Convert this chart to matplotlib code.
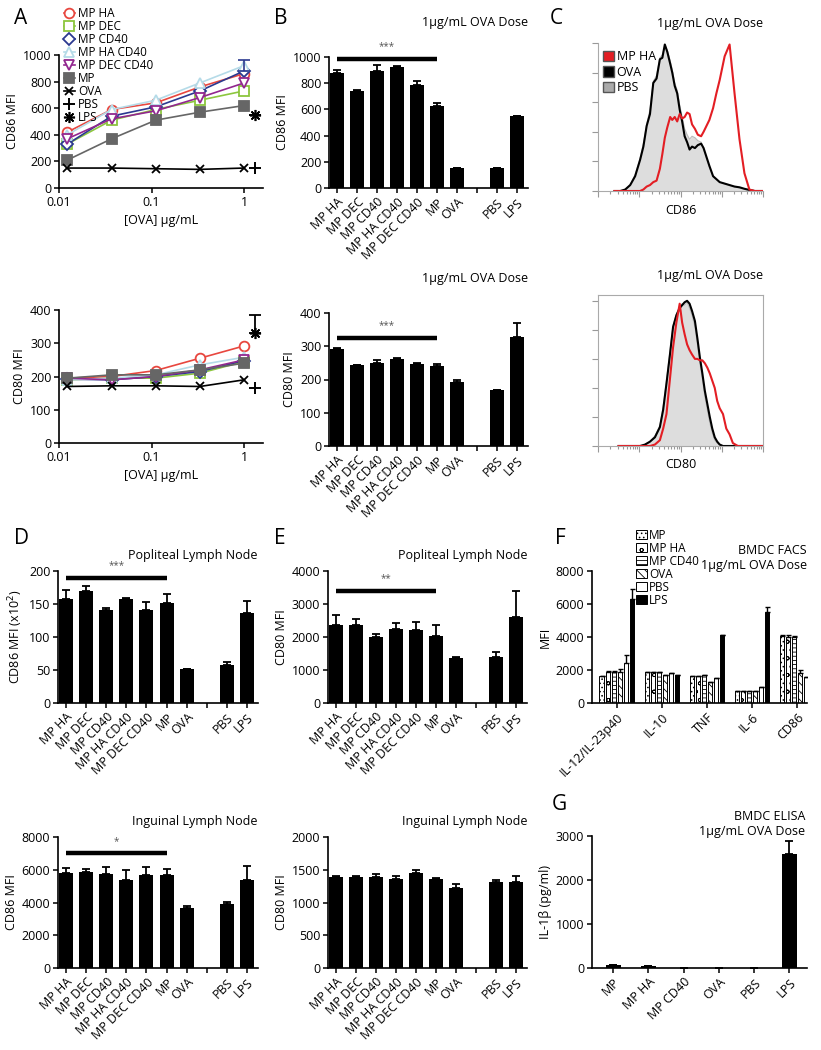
import numpy as np
import matplotlib
matplotlib.use("Agg")
import matplotlib.pyplot as plt
from matplotlib.patches import Patch

plt.rcParams['font.family'] = ['Open Sans', 'DejaVu Sans']
plt.rcParams['hatch.linewidth'] = 0.6

W, H = 821, 1050
FS = 9

# ---------- panel A: dose response ----------
doses = [0.0123, 0.037, 0.111, 0.333, 1.0]
ctrl_dose = 1.3
groups_a = ["MP HA", "MP DEC", "MP CD40", "MP HA CD40", "MP DEC CD40", "MP", "OVA"]
a_cd86 = {
    "MP HA": [420, 590, 640, 760, 860],
    "MP DEC": [330, 510, 590, 660, 730],
    "MP CD40": [330, 540, 610, 730, 880],
    "MP HA CD40": [400, 590, 660, 790, 920],
    "MP DEC CD40": [370, 520, 580, 680, 790],
    "MP": [210, 370, 510, 570, 620],
    "OVA": [150, 150, 145, 140, 150],
}
a_cd86_pbs, a_cd86_lps = 150, 550
a_cd80 = {
    "MP HA": [195, 200, 218, 255, 292],
    "MP DEC": [190, 195, 195, 210, 245],
    "MP CD40": [192, 190, 200, 215, 248],
    "MP HA CD40": [190, 195, 205, 235, 258],
    "MP DEC CD40": [195, 190, 200, 220, 250],
    "MP": [195, 205, 205, 220, 240],
    "OVA": [170, 172, 172, 170, 190],
}
a_cd80_pbs, a_cd80_lps, a_cd80_lps_err = 165, 330, 55

# ---------- bar panels B, D, E ----------
bar_labels = ["MP HA", "MP DEC", "MP CD40", "MP HA CD40", "MP DEC CD40", "MP", "OVA", "", "PBS", "LPS"]
b_cd86 = [875, 740, 895, 925, 785, 625, 150, np.nan, 155, 550]
b_cd86_err = [25, 10, 45, 10, 35, 25, 0, np.nan, 0, 0]
b_cd80 = [292, 245, 250, 262, 247, 242, 192, np.nan, 167, 328]
b_cd80_err = [3, 0, 8, 2, 2, 4, 8, np.nan, 0, 42]
d_pop = [158, 170, 141, 157, 141, 151, 51, np.nan, 57, 137]
d_pop_err = [13, 7, 3, 2, 12, 14, 1, np.nan, 5, 18]
d_ing = [5800, 5880, 5750, 5400, 5650, 5700, 3650, np.nan, 3900, 5350]
d_ing_err = [300, 150, 400, 600, 500, 350, 150, np.nan, 150, 850]
e_pop = [2350, 2350, 2000, 2250, 2200, 2020, 1350, np.nan, 1400, 2600]
e_pop_err = [330, 200, 100, 180, 250, 350, 30, np.nan, 150, 800]
e_ing = [1390, 1395, 1385, 1360, 1450, 1360, 1220, np.nan, 1320, 1320]
e_ing_err = [15, 10, 50, 50, 40, 15, 60, np.nan, 20, 80]

# ---------- panel C: histograms ----------
c86_x = [0.4, 0.54, 0.66, 0.78, 0.9, 1.02, 1.1, 1.18, 1.26, 1.34, 1.42, 1.5, 1.56, 1.62,
         1.68, 1.75, 1.8, 1.86, 1.92, 1.98, 2.04, 2.1, 2.16, 2.22, 2.28, 2.35, 2.42, 2.5,
         2.56, 2.63, 2.7, 2.79, 2.87, 2.95, 3.07, 3.19, 3.31, 3.43, 3.55, 3.67, 3.8, 4.0]
c86_ova = [0, 0, 0.01, 0.04, 0.1, 0.21, 0.3, 0.44, 0.52, 0.73, 0.76, 0.89, 0.9, 0.99,
           0.94, 0.86, 0.8, 0.71, 0.66, 0.55, 0.47, 0.37, 0.33, 0.28, 0.30, 0.29, 0.31, 0.32,
           0.29, 0.23, 0.17, 0.10, 0.08, 0.06, 0.05, 0.04, 0.03, 0.025, 0.015, 0.007, 0, 0]
c86_pbs = [0, 0, 0.01, 0.04, 0.11, 0.22, 0.32, 0.45, 0.55, 0.74, 0.78, 0.9, 0.92, 0.98,
           0.95, 0.88, 0.82, 0.73, 0.68, 0.58, 0.5, 0.42, 0.38, 0.35, 0.37, 0.36, 0.34, 0.33,
           0.28, 0.22, 0.16, 0.10, 0.08, 0.06, 0.05, 0.04, 0.03, 0.02, 0.012, 0.005, 0, 0]
c86_mpha = [0, 0, 0, 0, 0, 0, 0.01, 0.03, 0.04, 0.06, 0.07, 0.15, 0.25, 0.36,
            0.43, 0.5, 0.48, 0.5, 0.47, 0.52, 0.49, 0.5, 0.53, 0.52, 0.45, 0.42, 0.38, 0.37,
            0.40, 0.44, 0.48, 0.56, 0.66, 0.75, 0.91, 0.99, 0.66, 0.35, 0.12, 0.01, 0, 0]
c80_x = [0.5, 0.8, 1.02, 1.14, 1.26, 1.38, 1.5, 1.58, 1.66, 1.74, 1.82, 1.9, 1.98, 2.04,
         2.1, 2.16, 2.22, 2.28, 2.35, 2.41, 2.47, 2.53, 2.59, 2.65, 2.71, 2.77, 2.83, 2.89,
         2.95, 3.03, 3.11, 3.19, 3.27, 3.39, 3.6, 4.0]
c80_ova = [0, 0, 0, 0.01, 0.03, 0.06, 0.13, 0.25, 0.43, 0.62, 0.82, 0.9, 0.95, 0.97,
           0.99, 1.0, 0.98, 0.93, 0.86, 0.74, 0.61, 0.5, 0.38, 0.29, 0.2, 0.12, 0.06, 0.03,
           0.01, 0, 0, 0, 0, 0, 0, 0]
c80_pbs = [0, 0, 0, 0.01, 0.03, 0.07, 0.14, 0.27, 0.45, 0.64, 0.83, 0.91, 0.96, 0.98,
           0.97, 0.99, 0.95, 0.9, 0.82, 0.7, 0.57, 0.46, 0.34, 0.25, 0.16, 0.09, 0.04, 0.02,
           0.01, 0, 0, 0, 0, 0, 0, 0]
c80_mpha = [0, 0, 0, 0, 0, 0.01, 0.04, 0.12, 0.22, 0.45, 0.68, 0.85, 0.98, 0.85,
            0.77, 0.7, 0.66, 0.63, 0.6, 0.6, 0.59, 0.59, 0.57, 0.54, 0.5, 0.45, 0.4, 0.31,
            0.26, 0.22, 0.12, 0.08, 0.02, 0, 0, 0]

# ---------- panel F: BMDC FACS ----------
f_groups = ["IL-12/IL-23p40", "IL-10", "TNF", "IL-6", "CD86"]
f_series = ["MP", "MP HA", "MP CD40", "OVA", "PBS", "LPS"]
f_vals = {
    "MP": [1650, 1850, 1650, 700, 4050],
    "MP HA": [1900, 1900, 1650, 750, 4000],
    "MP CD40": [1900, 1900, 1700, 750, 4000],
    "OVA": [1850, 1700, 1300, 750, 1800],
    "PBS": [2400, 1800, 1500, 950, 1600],
    "LPS": [6300, 1700, 4100, 5500, 6400],
}
f_errs = {
    "MP": [0, 0, 0, 0, 50],
    "MP HA": [50, 0, 0, 0, 150],
    "MP CD40": [50, 0, 0, 0, 50],
    "OVA": [200, 0, 0, 0, 200],
    "PBS": [500, 0, 0, 0, 0],
    "LPS": [600, 0, 50, 300, 0],
}

# ---------- panel G: ELISA ----------
g_labels = ["MP", "MP HA", "MP CD40", "OVA", "PBS", "LPS"]
g_vals = [60, 40, 5, 0, 0, 2600]
g_errs = [0, 0, 0, 0, 0, 280]

fig = plt.figure(figsize=(W / 100, H / 100), dpi=100)


def ax_at(left, right, top, bottom):
    return fig.add_axes([left / W, 1 - bottom / H, (right - left) / W, (bottom - top) / H])


def style(ax):
    for s in ["top", "right"]:
        ax.spines[s].set_visible(False)
    for s in ["left", "bottom"]:
        ax.spines[s].set_linewidth(1.2)
    ax.tick_params(width=1.1, length=3.5, labelsize=FS, pad=2)


def letter(x, y, s):
    fig.text(x / W, 1 - y / H, s, fontsize=15, ha="left", va="center")


def bar_panel(ax, vals, errs, ylim, yticks, ylabel, title, sig=None, title_y=1.12):
    x = np.arange(len(bar_labels))
    ax.bar(x, vals, width=0.7, color="black")
    lo = np.zeros(len(vals))
    ax.errorbar(x, vals, yerr=[lo, errs], fmt="none", ecolor="black",
                elinewidth=1.3, capsize=3, capthick=1.3)
    ax.set_xlim(-0.4, 9.55)
    ax.set_ylim(*ylim)
    ax.set_yticks(yticks)
    ax.set_xticks(x)
    ax.set_xticklabels(bar_labels, rotation=45, ha="right", rotation_mode="anchor")
    ax.set_ylabel(ylabel, fontsize=FS, labelpad=3)
    style(ax)
    ax.text(1.0, title_y, title, transform=ax.transAxes, ha="right", va="center", fontsize=FS)
    if sig is not None:
        level, stars = sig
        ax.plot([0, 5], [level, level], color="black", lw=3.2, solid_capstyle="butt",
                clip_on=False)
        ax.text(2.5, level + (ylim[1] - ylim[0]) * 0.05, stars, ha="center", va="bottom",
                fontsize=7, color="#555555")


# ---------- draw A ----------
a_styles = {
    "MP HA": dict(color="#e8473f", marker="o", mfc="white", ms=7),
    "MP DEC": dict(color="#8cc63e", marker="s", mfc="white", ms=6.5),
    "MP CD40": dict(color="#2b3990", marker="D", mfc="white", ms=6),
    "MP HA CD40": dict(color="#b5dbe8", marker="^", mfc="white", ms=7),
    "MP DEC CD40": dict(color="#92278f", marker="v", mfc="white", ms=7),
    "MP": dict(color="#666666", marker="s", mfc="#666666", ms=7),
    "OVA": dict(color="black", marker="x", mfc="black", ms=6),
}


def dose_panel(ax, data, pbs, lps, lps_err, ylim, yticks, ylabel):
    for g in groups_a:
        st = a_styles[g]
        ax.plot(doses, data[g], color=st["color"], lw=1.2, marker=st["marker"],
                mfc=st["mfc"], mec=st["color"], ms=st["ms"], mew=1.3, label=g, clip_on=False)
    ax.plot([ctrl_dose], [pbs], marker="+", color="black", ms=9, mew=1.4, ls="none",
            label="PBS", clip_on=False)
    ax.errorbar([ctrl_dose], [lps], yerr=[[0], [lps_err]], fmt="none", ecolor="black",
                elinewidth=1.3, capsize=4, capthick=1.3, clip_on=False)
    ax.plot([ctrl_dose], [lps], marker=(8, 2, 0), color="black", ms=8, mew=1.2, ls="none",
            label="LPS", clip_on=False)
    ax.set_xscale("log")
    ax.set_xlim(0.01, 1.6)
    ax.set_xticks([0.01, 0.1, 1])
    ax.set_xticklabels(["0.01", "0.1", "1"])
    ax.minorticks_off()
    ax.set_ylim(*ylim)
    ax.set_yticks(yticks)
    ax.set_ylabel(ylabel, fontsize=FS, labelpad=3)
    ax.set_xlabel("[OVA] μg/mL", fontsize=FS, labelpad=4)
    style(ax)


axA1 = ax_at(59, 263, 55, 188)
dose_panel(axA1, a_cd86, a_cd86_pbs, a_cd86_lps, 0, (0, 1000), range(0, 1001, 200), "CD86 MFI")
axA1.errorbar([doses[-1]], [a_cd86["MP CD40"][-1]], yerr=[[0], [80]], fmt="none",
              ecolor="#2b3990", elinewidth=1.2, capsize=4, capthick=1.2)
axA1.legend(loc="upper left", bbox_to_anchor=(64 / W, 1 - 7 / H), bbox_transform=fig.transFigure,
            frameon=False, fontsize=8.5, handlelength=0.9, handletextpad=0.3, labelspacing=0.0,
            borderpad=0, borderaxespad=0)
axA2 = ax_at(59, 263, 310, 443)
dose_panel(axA2, a_cd80, a_cd80_pbs, a_cd80_lps, a_cd80_lps_err, (0, 400), range(0, 401, 100),
           "CD80 MFI")

# ---------- draw B ----------
axB1 = ax_at(329, 528, 57, 188)
bar_panel(axB1, b_cd86, b_cd86_err, (0, 1000), range(0, 1001, 200), "CD86 MFI",
          "1μg/mL OVA Dose", sig=(985, "***"), title_y=1.26)
axB2 = ax_at(329, 528, 313, 446)
bar_panel(axB2, b_cd80, b_cd80_err, (0, 400), range(0, 401, 100), "CD80 MFI",
          "1μg/mL OVA Dose", sig=(325, "***"), title_y=1.26)


# ---------- draw C ----------
def hist_panel(ax, xs, ova, pbs, mpha, ymax, xlabel, box):
    ax.fill_between(xs, pbs, color="#dddddd", lw=0)
    ax.plot(xs, pbs, color="#bbbbbb", lw=0.8)
    ax.plot(xs, ova, color="black", lw=1.5)
    ax.plot(xs, mpha, color="#e31e24", lw=1.5)
    ax.set_xlim(0, 4)
    ax.set_ylim(0, ymax)
    ax.set_xticks([0, 1, 2, 3, 4])
    ax.set_xticks([d + np.log10(m) for d in range(4) for m in range(2, 10)], minor=True)
    ax.set_yticks([0, 0.2, 0.4, 0.6, 0.8, 1.0])
    ax.tick_params(which="both", colors="#999999", labelleft=False, labelbottom=False,
                   direction="out", width=0.8)
    ax.tick_params(which="major", length=4)
    ax.tick_params(which="minor", length=2)
    for s in ax.spines.values():
        s.set_color("#aaaaaa")
        s.set_linewidth(0.8)
    if not box:
        ax.spines["top"].set_visible(False)
        ax.spines["right"].set_visible(False)
    ax.set_xlabel(xlabel, fontsize=FS, labelpad=5)


axC1 = ax_at(598, 763, 43, 191)
hist_panel(axC1, c86_x, c86_ova, c86_pbs, c86_mpha, 1.0, "CD86", False)
axC1.text(1.0, 1.13, "1μg/mL OVA Dose", transform=axC1.transAxes, ha="right", va="center",
          fontsize=FS)
axC1.legend(handles=[Patch(fc="#e31e24", ec="#555555", label="MP HA"),
                     Patch(fc="black", ec="#555555", label="OVA"),
                     Patch(fc="#aaaaaa", ec="#555555", label="PBS")],
            loc="upper left", bbox_to_anchor=(0.03, 0.95), frameon=False, fontsize=FS,
            handlelength=0.9, handleheight=0.9, handletextpad=0.2, labelspacing=0.2,
            borderpad=0, borderaxespad=0)
axC2 = ax_at(598, 763, 295, 446)
hist_panel(axC2, c80_x, c80_ova, c80_pbs, c80_mpha, 1.04, "CD80", True)
axC2.text(1.0, 1.13, "1μg/mL OVA Dose", transform=axC2.transAxes, ha="right", va="center",
          fontsize=FS)

# ---------- draw D and E ----------
axD1 = ax_at(58, 258, 571, 703)
bar_panel(axD1, d_pop, d_pop_err, (0, 200), range(0, 201, 50), "CD86 MFI (x10$^2$)",
          "Popliteal Lymph Node", sig=(190, "***"))
axD2 = ax_at(58, 258, 837, 968)
bar_panel(axD2, d_ing, d_ing_err, (0, 8000), range(0, 8001, 2000), "CD86 MFI",
          "Inguinal Lymph Node", sig=(7000, "*"))
axE1 = ax_at(328, 527, 571, 703)
bar_panel(axE1, e_pop, e_pop_err, (0, 4000), range(0, 4001, 1000), "CD80 MFI",
          "Popliteal Lymph Node", sig=(3400, "**"))
axE2 = ax_at(328, 527, 837, 968)
bar_panel(axE2, e_ing, e_ing_err, (0, 2000), range(0, 2001, 500), "CD80 MFI",
          "Inguinal Lymph Node")

# ---------- draw F ----------
f_hatch = {"MP": "....", "MP HA": "oo", "MP CD40": "----", "OVA": "\\\\\\\\", "PBS": "",
           "LPS": ""}
f_face = {"MP": "white", "MP HA": "white", "MP CD40": "white", "OVA": "white",
          "PBS": "white", "LPS": "black"}
axF = ax_at(592, 807, 571, 703)
gx = np.arange(len(f_groups))
pitch = 0.135
for i, s in enumerate(f_series):
    xs = gx + (i - 2.5) * pitch
    axF.bar(xs, f_vals[s], width=0.095, color=f_face[s], edgecolor="black", lw=0.7,
            hatch=f_hatch[s], label=s)
    axF.errorbar(xs, f_vals[s], yerr=[np.zeros(len(gx)), f_errs[s]], fmt="none",
                 ecolor="black", elinewidth=1.0, capsize=1.8, capthick=1.0)
axF.set_xlim(-0.55, 4.22)
axF.set_ylim(0, 8000)
axF.set_yticks(range(0, 8001, 2000))
axF.set_xticks(gx)
axF.set_xticklabels(f_groups, rotation=45, ha="right", rotation_mode="anchor")
axF.set_ylabel("MFI", fontsize=FS, labelpad=3)
style(axF)
axF.legend(loc="upper left", bbox_to_anchor=(636 / W, 1 - 529 / H),
           bbox_transform=fig.transFigure, frameon=False, fontsize=8.5, handlelength=0.9,
           handleheight=0.8, handletextpad=0.2, labelspacing=0.0, borderpad=0,
           borderaxespad=0)
fig.text(807 / W, 1 - 558 / H, "BMDC FACS\n1μg/mL OVA Dose", ha="right", va="center",
         fontsize=FS, linespacing=1.1)

# ---------- draw G ----------
axG = ax_at(592, 807, 836, 968)
gxx = np.arange(len(g_labels))
axG.bar(gxx, g_vals, width=0.43, color="black")
axG.errorbar(gxx, g_vals, yerr=[np.zeros(len(gxx)), g_errs], fmt="none", ecolor="black",
             elinewidth=1.3, capsize=3, capthick=1.3)
axG.set_xlim(-0.6, 5.5)
axG.set_ylim(0, 3000)
axG.set_yticks(range(0, 3001, 1000))
axG.set_xticks(gxx)
axG.set_xticklabels(g_labels, rotation=45, ha="right", rotation_mode="anchor")
axG.set_ylabel("IL-1β (pg/ml)", fontsize=FS, labelpad=3)
style(axG)
fig.text(805 / W, 1 - 824 / H, "BMDC ELISA\n1μg/mL OVA Dose", ha="right", va="center",
         fontsize=FS, linespacing=1.1)

# ---------- panel letters ----------
letter(14, 18, "A")
letter(274, 18, "B")
letter(550, 18, "C")
letter(14, 538, "D")
letter(274, 538, "E")
letter(555, 538, "F")
letter(552, 805, "G")

fig.savefig("out.png", dpi=100)
